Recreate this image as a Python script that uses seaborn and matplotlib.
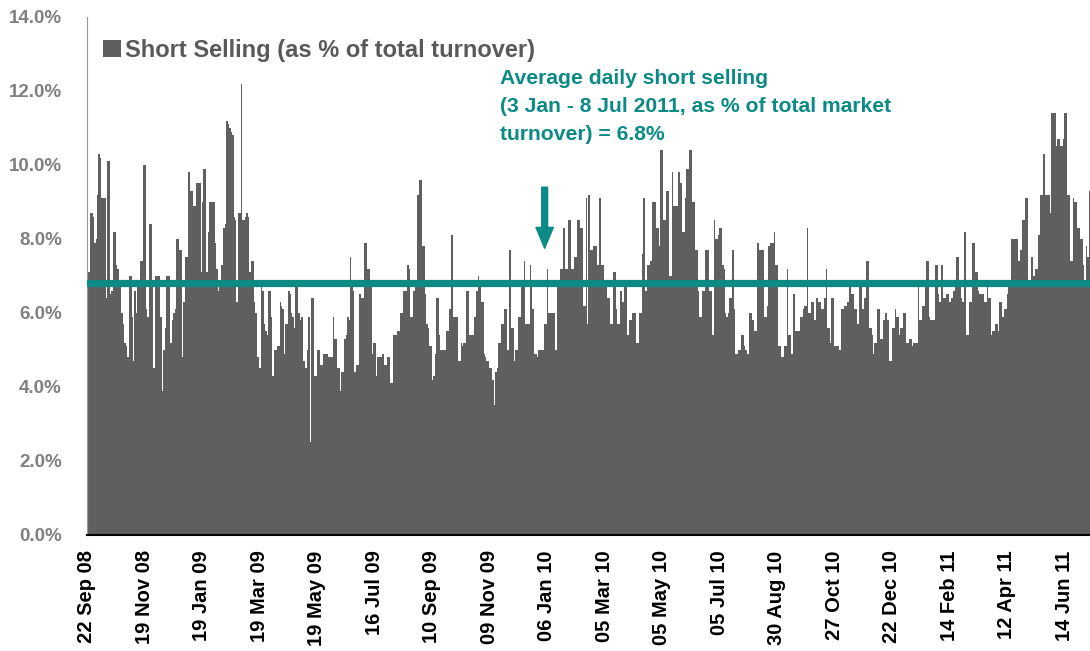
import numpy as np
import pandas as pd
import matplotlib
matplotlib.use("Agg")
import matplotlib.pyplot as plt
import seaborn as sns

# daily short selling, % of total turnover
y2008 = [8.4, 7.1, 8.7, 8.7, 8.6, 7.9, 8.0, 9.2, 10.3, 10.2,
         9.1, 9.1, 9.1, 6.4, 10.1, 10.1, 6.5, 6.6, 8.2, 8.2,
         7.3, 7.2, 6.9, 6.8, 6.0, 5.7, 5.2, 5.1, 4.8, 7.0,
         7.0, 5.9, 4.7, 6.6, 6.0, 6.7, 6.7, 7.4, 7.4, 10.0,
         10.0, 6.1, 5.9, 8.4, 8.4, 6.7, 4.5, 7.0, 7.0, 7.0,
         7.0, 5.9, 3.9, 5.0, 5.6, 7.0, 7.0, 7.0, 5.2, 5.8,
         6.0, 6.1, 8.0, 8.0, 7.7, 7.7, 4.8, 6.3, 7.5]

y2009 = [7.5, 9.8, 9.8, 9.3, 9.3, 8.9, 8.9, 9.5, 9.5, 9.5,
         7.1, 9.0, 9.9, 9.9, 7.1, 8.2, 9.0, 9.0,
         9.0, 9.0, 7.9, 7.2, 6.6, 6.7, 7.3, 7.3, 8.3, 8.4,
         11.2, 11.1, 11.0, 10.9, 10.8, 8.6, 8.5, 6.3, 8.7, 8.7,
         12.2, 8.5, 8.5, 8.6, 8.7, 8.6, 7.1, 7.4, 7.4, 6.3,
         6.0, 4.8, 4.8, 4.5, 6.7, 6.6, 5.7, 5.5, 5.4, 6.6,
         6.6, 5.9, 4.3, 5.0, 5.0, 5.1, 5.1, 6.3, 6.2, 6.1,
         4.9, 5.7, 5.7, 6.6, 6.5, 6.0, 5.9, 5.6, 6.7, 6.7,
         6.0, 5.8, 5.9, 4.7, 4.7, 4.5, 5.0, 5.9, 2.5, 6.4,
         6.4, 4.3, 4.3, 5.0, 5.0, 4.6, 4.6, 4.9, 4.9, 4.9,
         4.9, 4.8, 4.8, 4.8, 5.9, 5.3, 5.3,
         4.5, 4.5, 3.9, 4.4, 4.4, 5.3, 5.4, 5.9, 5.8, 7.5,
         6.7, 6.6, 4.4, 4.6, 4.6, 6.5, 6.5, 6.4, 6.4, 7.9,
         7.9, 7.2, 7.2, 6.9, 4.9, 5.2, 5.2, 4.3, 4.8, 4.8,
         4.8, 4.9, 4.9, 4.6, 4.6, 4.8, 4.8, 4.1, 4.1, 5.4,
         5.4, 5.4, 5.5, 5.5, 6.0, 6.0, 6.6, 6.6, 6.6, 7.3,
         7.2, 5.9, 5.9, 6.6, 6.7, 6.7, 9.2, 9.6, 9.6, 7.8,
         7.8, 6.5, 5.7, 5.6, 5.1, 5.1, 4.2, 4.3, 4.9, 6.4,
         6.4, 5.4, 5.0, 5.0, 5.0, 5.0, 5.5, 5.5, 6.1, 8.1,
         8.1, 5.9, 5.9, 5.9, 4.7, 4.7, 5.2,
         5.1, 5.2, 5.2, 6.6, 6.6, 5.4, 5.4, 5.4, 5.9, 5.9,
         6.6, 7.0, 6.8, 6.3, 6.3, 4.9, 4.8, 4.7, 4.7, 4.5,
         4.5, 4.2, 3.5, 4.4, 4.5, 5.2, 5.2, 5.7, 5.7, 6.1,
         6.1, 5.0, 5.0, 7.7, 5.6, 5.6, 4.7, 5.0, 5.0, 5.9,
         5.9, 6.7, 6.7, 7.4, 5.7, 5.7, 5.7, 7.3, 6.9, 6.1,
         4.9, 4.9, 4.8, 5.0, 5.0, 5.0, 5.0]

y2010 = [5.7, 5.7, 7.2,
         6.0, 6.0, 6.0, 6.0, 6.0, 5.0, 6.9, 6.9, 7.2, 7.2,
         8.3, 8.3, 7.2, 7.2, 8.5, 8.5, 7.2, 7.2, 7.5, 7.5,
         8.5, 8.5, 8.3, 8.3, 6.2, 6.2, 9.1,
         5.7, 9.2, 7.7, 7.7, 7.8, 7.8, 7.8, 7.3, 9.1, 9.1,
         7.3, 7.3, 6.7, 6.7, 6.4, 6.4, 5.7, 5.7, 7.1, 7.1,
         6.1, 5.7, 5.7, 6.6, 6.3, 6.3, 6.7, 6.7, 5.4, 5.8,
         5.8, 6.0, 6.0, 6.0, 5.2, 5.2, 6.0, 6.0, 7.6, 9.1,
         6.6, 6.6, 7.3, 7.3, 7.4, 9.0, 9.0, 9.0, 8.3, 8.3,
         7.8, 10.4, 10.4, 8.5, 8.5, 9.3, 9.3, 7.0, 7.0, 9.8,
         8.9, 8.9, 8.9, 9.8, 9.8, 9.5, 8.2, 8.2, 9.1, 9.9,
         9.9, 10.4, 10.4, 9.0, 9.0, 7.7, 7.7, 6.6, 5.9, 5.9,
         6.6, 6.6, 7.7, 7.7, 7.7, 6.6, 6.6,
         5.4, 8.5, 8.0, 8.0, 8.1, 8.3, 8.3, 7.3, 7.2, 6.0,
         5.9, 6.0, 6.4, 6.4, 7.7, 6.1, 4.9, 4.9, 5.0, 5.0,
         5.4, 5.4, 5.1, 5.0, 4.9, 4.9, 6.0, 6.0, 5.8, 5.5,
         5.5, 7.9, 7.9, 7.7, 7.7, 7.7, 5.9, 5.9, 6.2, 7.8,
         7.9, 7.9, 7.9, 8.2, 7.3, 7.3, 5.1, 5.1, 4.8, 4.8,
         5.1, 5.1, 7.2, 5.4, 5.4, 4.9, 6.5, 6.5, 5.5, 5.5,
         5.5, 5.9, 5.9, 6.1, 6.2, 6.2, 8.3, 6.0, 6.0, 6.3,
         6.3, 5.8, 6.4, 6.4, 6.3, 6.3, 6.1, 6.1, 6.4, 7.2,
         5.6, 5.6, 5.2, 6.4, 6.4, 5.1, 5.1,
         5.1, 5.0, 5.0, 6.1, 6.1, 6.2, 6.2, 6.3, 6.7, 6.7,
         6.5, 6.5, 6.1, 6.1, 5.7, 6.7, 6.7, 6.1, 6.1, 6.4,
         7.4, 7.4, 5.6, 5.6, 5.4, 4.9, 5.2, 5.2, 6.1, 6.1,
         5.3, 5.3, 5.8, 6.0, 6.0, 5.8, 4.7, 4.7, 5.6, 5.6,
         6.1, 5.9, 5.9, 5.4, 5.6]

y2011 = [5.6, 6.0, 6.0, 5.2, 5.2,
         5.3, 5.3, 5.1, 5.2, 5.2, 5.2, 6.9, 5.8, 5.8, 6.2,
         6.2, 6.7, 7.4, 7.4, 5.9, 5.8, 5.8, 5.8, 7.3, 7.3,
         6.5, 6.3, 7.3, 7.3, 6.4, 6.4, 6.5, 6.5, 6.3, 6.4,
         6.4, 6.6, 6.7, 7.5, 7.5, 6.8, 6.4,
         6.3, 8.2, 8.2, 5.4, 5.4, 6.3, 6.3, 7.9, 7.9, 7.1,
         7.1, 6.6, 6.5, 6.5, 6.5, 6.3, 6.3, 6.7, 6.4, 6.4,
         5.4, 5.5, 5.5, 5.7, 5.7, 5.5, 6.3, 6.3, 5.9, 6.1,
         6.1, 6.5, 6.9, 6.9, 8.0, 8.0, 8.0, 8.0, 8.0, 7.4,
         7.7, 7.7, 8.5, 8.5, 9.1, 9.1, 6.9, 6.8, 7.5, 7.0,
         7.0, 7.2, 7.2, 8.1, 9.2, 9.2, 10.3, 10.3, 9.2, 9.2,
         9.2, 8.7, 11.4, 11.4, 11.4, 10.5, 10.7, 10.7, 10.5, 10.5,
         10.7, 11.4, 11.4, 9.2, 9.2, 7.4, 7.4, 9.1, 9.0, 9.0,
         8.3, 8.3, 8.0, 8.0, 7.3, 6.7, 7.8, 7.5, 9.3]

tick_labels = ["22 Sep 08", "19 Nov 08", "19 Jan 09", "19 Mar 09", "19 May 09",
               "16 Jul 09", "10 Sep 09", "09 Nov 09", "06 Jan 10", "05 Mar 10",
               "05 May 10", "05 Jul 10", "30 Aug 10", "27 Oct 10", "22 Dec 10",
               "14 Feb 11", "12 Apr 11", "14 Jun 11"]
tick_step = 40          # trading days between labels
avg_2011 = 6.8
arrow_day = 318         # day the arrow points at

short_pct = y2008 + y2009 + y2010 + y2011
n = len(short_pct)
df = pd.DataFrame({"day": np.arange(n), "pct": short_pct})

teal = "#0b8a86"
bar_grey = "#5f5f5f"

sns.set_style("white")
plt.rcParams["font.family"] = ["Liberation Sans", "DejaVu Sans"]

fig = plt.figure(figsize=(10.9, 6.51), dpi=100)
ax = fig.add_axes([0.0798, 0.1782, 0.9202, 0.7957])

sns.barplot(data=df, x="day", y="pct", color=bar_grey, saturation=1,
            width=1.0, linewidth=0, label="Short Selling (as % of total turnover)",
            ax=ax)

ax.axhline(avg_2011, color=teal, lw=5.2, zorder=3)

ax.annotate("", xy=(arrow_day, 7.75), xytext=(arrow_day, 9.4),
            arrowprops=dict(facecolor=teal, edgecolor=teal, width=4.2,
                            headwidth=12.5, headlength=15, shrink=0))

fig.text(500 / 1090, 1 - 69 / 651,
         "Average daily short selling\n(3 Jan - 8 Jul 2011, as % of total market\nturnover) = 6.8%",
         color=teal, fontsize=15.2, fontweight="bold", va="top", ha="left",
         linespacing=1.6)

ax.set_xlim(-0.5, n - 0.5)
ax.set_ylim(0, 14)
ax.set_yticks(np.arange(0, 15, 2))
ax.set_yticklabels([f"{v:.1f}%" for v in np.arange(0, 15, 2)],
                   fontsize=13.5, fontweight="bold", color="#808080")
ax.set_xticks(np.arange(len(tick_labels)) * tick_step - 0.5)
ax.set_xticklabels(tick_labels, rotation=90, fontsize=14.5,
                   fontweight="bold", color="black")
ax.tick_params(axis="y", direction="out", length=5, width=1, color="#999999", pad=13)
ax.tick_params(axis="x", direction="out", length=5, width=1.5, color="black", pad=6)
ax.set_xlabel("")
ax.set_ylabel("")

sns.despine(ax=ax, top=True, right=True)
ax.spines["left"].set_color("#999999")
ax.spines["bottom"].set_color("black")
ax.spines["bottom"].set_linewidth(1.5)

ax.legend(loc="upper left", bbox_to_anchor=(0.016, 0.958), frameon=False,
          borderaxespad=0, borderpad=0, handlelength=0.75, handleheight=0.75,
          handletextpad=0.2, labelcolor="#595959",
          prop={"weight": "bold", "size": 17, "family": "Liberation Sans"})

fig.savefig("out.png", dpi=100)
